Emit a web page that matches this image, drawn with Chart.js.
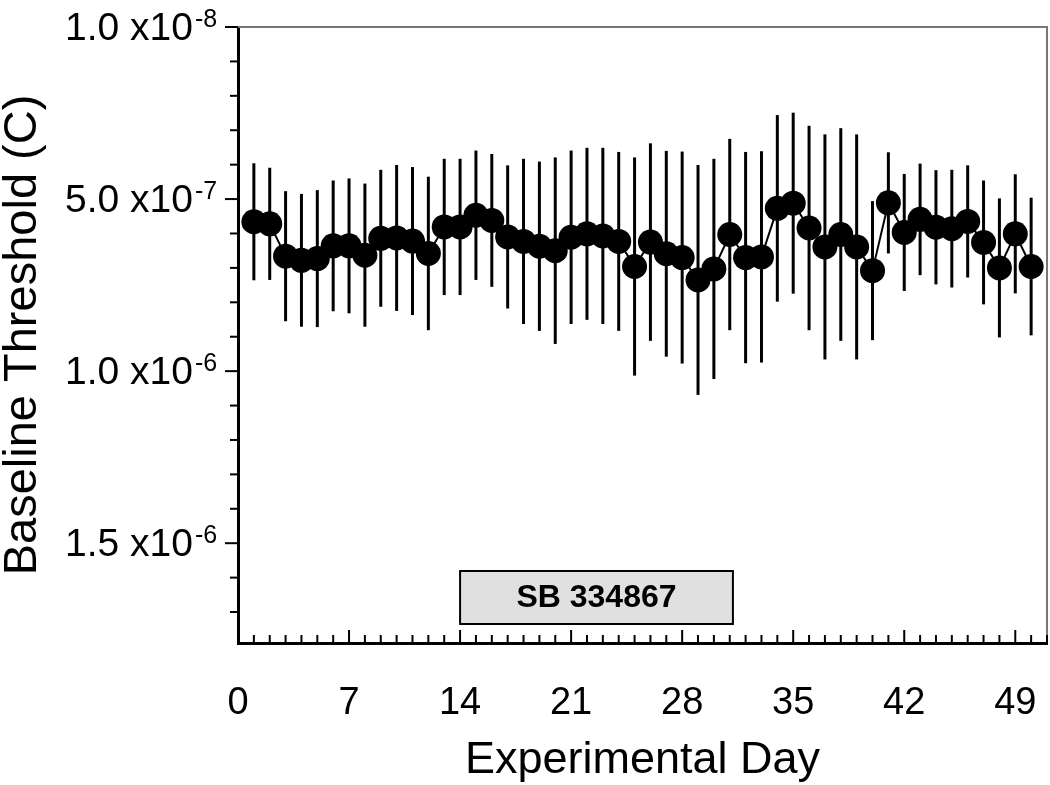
<!DOCTYPE html>
<html>
<head>
<meta charset="utf-8">
<script src="https://cdn.jsdelivr.net/npm/chart.js@4.4.1/dist/chart.umd.min.js"></script>
<style>
  html, body { margin: 0; padding: 0; background: #fff; overflow: hidden; }
  #wrap { width: 1050px; height: 785px; position: relative; }
  canvas { display: block; }
</style>
</head>
<body>
<div id="wrap"><canvas id="thresholdChart"></canvas></div>
<script>
// Baseline threshold per experimental day, in units of 1e-7 C
const days = [1, 2, 3, 4, 5, 6, 7, 8, 9, 10, 11, 12, 13, 14, 15, 16, 17, 18, 19, 20, 21, 22, 23, 24, 25,
              26, 27, 28, 29, 30, 31, 32, 33, 34, 35, 36, 37, 38, 39, 40, 41, 42, 43, 44, 45, 46, 47, 48, 49, 50];
const threshold = [5.66, 5.72, 6.66, 6.78, 6.73, 6.36, 6.36, 6.63, 6.14, 6.13, 6.22, 6.58, 5.81, 5.81, 5.47,
                   5.62, 6.10, 6.23, 6.37, 6.50, 6.11, 6.01, 6.07, 6.23, 6.96, 6.25, 6.59, 6.70, 7.35, 7.03,
                   6.03, 6.70, 6.68, 5.27, 5.12, 5.84, 6.39, 6.03, 6.39, 7.08, 5.11, 5.97, 5.59, 5.82, 5.86,
                   5.65, 6.26, 7.00, 6.01, 6.96];
const thresholdErr = [1.70, 1.63, 1.89, 1.93, 1.99, 1.90, 1.96, 2.08, 1.99, 2.12, 2.15, 2.23, 1.98, 1.98, 1.88,
                      1.93, 2.08, 2.40, 2.46, 2.71, 2.52, 2.50, 2.56, 2.60, 3.17, 2.87, 2.99, 3.08, 3.34, 3.20,
                      2.78, 3.07, 3.07, 2.71, 2.63, 2.97, 3.27, 3.09, 3.27, 2.02, 1.47, 1.70, 1.62, 1.66, 1.71,
                      1.63, 1.80, 2.02, 1.73, 2.00];

// y tick labels (the axis runs downward)
const yTickValues = [0, 5, 10, 15];
const yTickBase = ['1.0 x10', '5.0 x10', '1.0 x10', '1.5 x10'];
const yTickExp = ['-8', '-7', '-6', '-6'];

// drug treatment period
const drugName = 'SB 334867';
const drugDays = [14, 31.2];

const FONT = '"Liberation Sans", Arial, Helvetica, sans-serif';

const errorBars = {
  id: 'errorBars',
  beforeDatasetsDraw(chart) {
    const { ctx, scales: { x, y } } = chart;
    ctx.save();
    ctx.strokeStyle = '#000';
    ctx.lineWidth = 3;
    days.forEach((d, i) => {
      const px = x.getPixelForValue(d);
      ctx.beginPath();
      ctx.moveTo(px, y.getPixelForValue(threshold[i] - thresholdErr[i]));
      ctx.lineTo(px, y.getPixelForValue(threshold[i] + thresholdErr[i]));
      ctx.stroke();
    });
    ctx.restore();
  }
};

const axisDecor = {
  id: 'axisDecor',
  afterDraw(chart) {
    const { ctx, chartArea: area, scales: { x, y } } = chart;
    ctx.save();

    // thin grey frame on top and right
    ctx.strokeStyle = '#777';
    ctx.lineWidth = 2;
    ctx.beginPath();
    ctx.moveTo(area.left, area.top);
    ctx.lineTo(area.right, area.top);
    ctx.lineTo(area.right, area.bottom);
    ctx.stroke();

    // x ticks, pointing inward
    ctx.strokeStyle = '#000';
    ctx.lineWidth = 2;
    for (let d = 0; d <= x.max; d++) {
      const px = x.getPixelForValue(d);
      const len = d % 7 === 0 ? 13 : 8;
      ctx.beginPath();
      ctx.moveTo(px, area.bottom);
      ctx.lineTo(px, area.bottom - len);
      ctx.stroke();
    }

    // y ticks, pointing outward
    for (let v = 0; v <= y.max; v++) {
      const py = y.getPixelForValue(v);
      const len = v % 5 === 0 ? 13 : 8;
      ctx.beginPath();
      ctx.moveTo(area.left, py);
      ctx.lineTo(area.left - len, py);
      ctx.stroke();
    }

    // y tick labels with superscript exponents
    ctx.fillStyle = '#000';
    ctx.textBaseline = 'alphabetic';
    yTickValues.forEach((v, i) => {
      const py = y.getPixelForValue(v);
      ctx.font = '39px ' + FONT;
      ctx.textAlign = 'right';
      ctx.fillText(yTickBase[i], area.left - 45, py + 13);
      ctx.font = '25px ' + FONT;
      ctx.textAlign = 'left';
      ctx.fillText(yTickExp[i], area.left - 43, py);
    });

    // drug treatment box
    const bx0 = x.getPixelForValue(drugDays[0]);
    const bx1 = x.getPixelForValue(drugDays[1]);
    const by0 = area.bottom - 72;
    const by1 = area.bottom - 19;
    ctx.fillStyle = '#e0e0e0';
    ctx.fillRect(bx0, by0, bx1 - bx0, by1 - by0);
    ctx.strokeStyle = '#000';
    ctx.lineWidth = 2;
    ctx.strokeRect(bx0, by0, bx1 - bx0, by1 - by0);
    ctx.fillStyle = '#000';
    ctx.font = 'bold 32px ' + FONT;
    ctx.textAlign = 'center';
    ctx.textBaseline = 'middle';
    ctx.fillText(drugName, (bx0 + bx1) / 2, (by0 + by1) / 2 + 1);

    ctx.restore();
  }
};

new Chart(document.getElementById('thresholdChart'), {
  type: 'line',
  data: {
    labels: days,
    datasets: [{
      data: days.map((d, i) => ({ x: d, y: threshold[i] })),
      borderColor: '#000',
      borderWidth: 2,
      pointRadius: 12.5,
      pointBackgroundColor: '#000',
      pointBorderWidth: 0,
      tension: 0
    }]
  },
  options: {
    responsive: true,
    maintainAspectRatio: false,
    animation: false,
    // no automatic room for the big markers, the plot runs to the right edge
    layout: { autoPadding: false, padding: { top: 27, right: 3, left: 0, bottom: 0 } },
    plugins: {
      legend: { display: false },
      tooltip: { enabled: false }
    },
    scales: {
      x: {
        type: 'linear',
        min: 0,
        max: 51,
        // invisible tick marks only push the labels down
        grid: { display: true, drawOnChartArea: false, drawTicks: true, tickLength: 38, tickColor: 'rgba(0,0,0,0)' },
        border: { display: true, color: '#000', width: 3 },
        ticks: {
          stepSize: 7,
          includeBounds: false,
          autoSkip: false,
          maxRotation: 0,
          padding: 0,
          color: '#000',
          font: { family: FONT, size: 38 }
        },
        title: {
          display: true,
          text: 'Experimental Day',
          color: '#000',
          font: { family: FONT, size: 45, lineHeight: 1.1 },
          padding: { top: 0, bottom: 0 }
        },
        afterFit(scale) {
          scale.height = 142;
          scale.paddingLeft = 0;
          scale.paddingRight = 0;
        }
      },
      y: {
        type: 'linear',
        reverse: true,
        min: 0,
        max: 17.9,
        grid: { display: false, drawTicks: false },
        border: { display: true, color: '#000', width: 3 },
        ticks: { display: false },
        title: {
          display: true,
          text: 'Baseline Threshold (C)',
          color: '#000',
          font: { family: FONT, size: 47, lineHeight: 1.0 },
          padding: { top: 0, bottom: 0 }
        },
        afterFit(scale) { scale.width = 238; }
      }
    }
  },
  plugins: [errorBars, axisDecor]
});
</script>
</body>
</html>
